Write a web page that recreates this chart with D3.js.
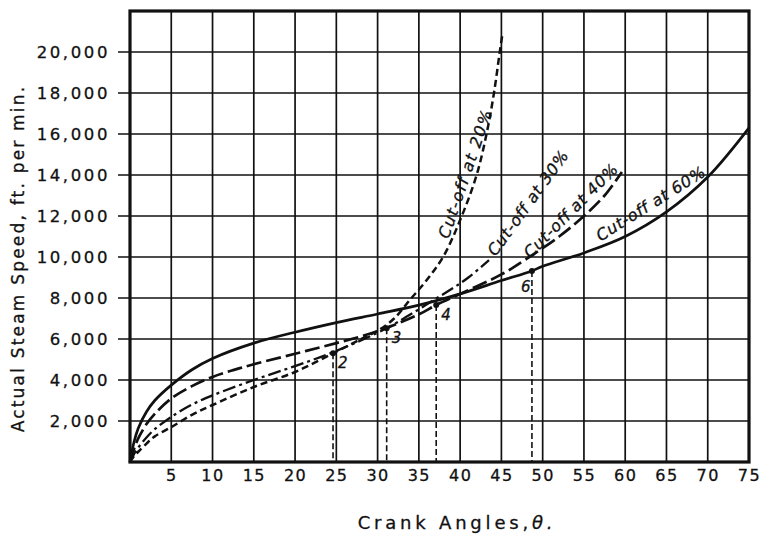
<!DOCTYPE html>
<html>
<head>
<meta charset="utf-8">
<script src="https://cdn.jsdelivr.net/npm/d3@7"></script>
<style>
  body { margin: 0; background: #fff; }
  svg text { fill: #111; stroke: #111; stroke-width: 0.3px; font-family: "DejaVu Sans", sans-serif; }
</style>
</head>
<body>
<div id="chart"></div>
<script>
// crank angle (deg) and steam speed (ft per min)
const angles60 = [0, 0.5, 1, 2, 3, 5, 7.5, 10, 15, 20, 25, 30, 35, 40, 45, 48.7, 50, 55, 60, 65, 70, 75];
const speeds60 = [0, 1000, 1650, 2450, 3000, 3750, 4500, 5050, 5800, 6330, 6800, 7220, 7650, 8200, 8850, 9320, 9550, 10200, 11000, 12200, 13900, 16300];

const angles40 = [0, 0.5, 1, 2, 3, 5, 7.5, 10, 12.5, 15, 20, 25, 30, 35, 37.1, 40, 45, 48, 52, 55, 57.5, 59.6];
const speeds40 = [0, 650, 1150, 1850, 2350, 3100, 3700, 4150, 4480, 4770, 5280, 5800, 6380, 7200, 7660, 8200, 9150, 9900, 11000, 12000, 13000, 14150];

const angles30 = [0, 0.5, 1, 2, 3, 5, 7.5, 10, 15, 20, 25, 31.1, 35, 37, 39, 41, 43.5];
const speeds30 = [0, 400, 700, 1200, 1600, 2200, 2800, 3250, 4000, 4680, 5420, 6530, 7450, 7950, 8450, 9000, 9850];

const angles20 = [0, 0.5, 1, 2, 3, 5, 7.5, 10, 15, 20, 24.6, 28, 30, 32, 34, 36, 38, 40.2, 42, 43.2, 44.1, 44.8, 45.1];
const speeds20 = [0, 300, 500, 900, 1250, 1700, 2300, 2780, 3660, 4390, 5300, 6000, 6400, 7000, 7950, 8900, 10050, 12000, 14000, 16000, 18000, 20000, 20800];

// numbered points with dropped verticals
const pointNames = ["2", "3", "4", "6"];
const pointAngles = [24.6, 31.1, 37.1, 48.7];
const pointSpeeds = [5300, 6530, 7660, 9320];

// curve labels: start position and slope of the lettering
const labelTexts = ["Cut-off at 20%", "Cut-off at 30%", "Cut-off at 40%", "Cut-off at 60%"];
const labelAngles = [38.6, 44.3, 48.5, 57.0];
const labelSpeeds = [10850, 10000, 9900, 10750];
const labelRotate = [-71, -54, -45, -32];

const xTicks = d3.range(5, 76, 5);
const yTicks = d3.range(2000, 20001, 2000);

const width = 761, height = 535;
const margin = {top: 11, right: 12, bottom: 73, left: 130};
const plotW = width - margin.left - margin.right;
const plotH = height - margin.top - margin.bottom;

const svg = d3.select("#chart").append("svg")
    .attr("width", width)
    .attr("height", height);

const g = svg.append("g").attr("transform", `translate(${margin.left},${margin.top})`);

const x = d3.scaleLinear().domain([0, 75]).range([0, plotW]);
const y = d3.scaleLinear().domain([0, 22000]).range([plotH, 0]);

// grid
g.selectAll("line.vgrid").data(xTicks.slice(0, -1))
    .enter().append("line")
    .attr("x1", d => x(d)).attr("x2", d => x(d))
    .attr("y1", 0).attr("y2", plotH)
    .attr("stroke", "#111").attr("stroke-width", 1.7);

g.selectAll("line.hgrid").data(yTicks)
    .enter().append("line")
    .attr("x1", -12).attr("x2", plotW)
    .attr("y1", d => y(d)).attr("y2", d => y(d))
    .attr("stroke", "#111").attr("stroke-width", 1.7);

g.append("rect")
    .attr("x", 0).attr("y", 0)
    .attr("width", plotW).attr("height", plotH)
    .attr("fill", "none").attr("stroke", "#111").attr("stroke-width", 3.2);

// axes (labels only)
const yAxis = g.append("g")
    .call(d3.axisLeft(y).tickValues(yTicks).tickSize(0).tickPadding(20).tickFormat(d3.format(",")));
yAxis.select(".domain").remove();
yAxis.selectAll("text")
    .attr("dy", "0.36em")
    .style("font-family", "DejaVu Sans, sans-serif")
    .style("font-size", "16.5px")
    .style("letter-spacing", "2.6px");

const xAxis = g.append("g")
    .attr("transform", `translate(0,${plotH})`)
    .call(d3.axisBottom(x).tickValues(xTicks).tickSize(0).tickPadding(8));
xAxis.select(".domain").remove();
xAxis.selectAll("text")
    .style("font-family", "DejaVu Sans, sans-serif")
    .style("font-size", "16px")
    .style("letter-spacing", "1.5px");

// dropped verticals
g.selectAll("line.drop").data(pointAngles)
    .enter().append("line")
    .attr("x1", d => x(d)).attr("x2", d => x(d))
    .attr("y1", (d, i) => y(pointSpeeds[i])).attr("y2", plotH)
    .attr("stroke", "#111").attr("stroke-width", 1.6)
    .attr("stroke-dasharray", "6,3");

// curves
const line = d3.line()
    .x(d => x(d[0]))
    .y(d => y(d[1]))
    .curve(d3.curveCatmullRom.alpha(0.5));

const series = [
    {a: angles60, s: speeds60, dash: null, w: 2.7},
    {a: angles40, s: speeds40, dash: "15,5", w: 2.7},
    {a: angles30, s: speeds30, dash: "13,4,3,4", w: 2.3},
    {a: angles20, s: speeds20, dash: "7,4", w: 2.5}
];

series.forEach(sr => {
    g.append("path")
        .datum(sr.a.map((v, i) => [v, sr.s[i]]))
        .attr("d", line)
        .attr("fill", "none")
        .attr("stroke", "#111")
        .attr("stroke-width", sr.w)
        .attr("stroke-dasharray", sr.dash);
});

// points
g.selectAll("circle.pt").data(pointAngles)
    .enter().append("circle")
    .attr("cx", d => x(d))
    .attr("cy", (d, i) => y(pointSpeeds[i]))
    .attr("r", 3)
    .attr("fill", "#111");

g.selectAll("text.ptlabel").data(pointNames)
    .enter().append("text")
    .attr("x", (d, i) => x(pointAngles[i]) + (i === 3 ? -11 : 5))
    .attr("y", (d, i) => y(pointSpeeds[i]) + (i === 3 ? 21 : 15))
    .style("font-size", "15px")
    .style("font-style", "italic")
    .text(d => d);

// curve labels
g.selectAll("text.curvelabel").data(labelTexts)
    .enter().append("text")
    .attr("transform", (d, i) => `translate(${x(labelAngles[i])},${y(labelSpeeds[i])}) rotate(${labelRotate[i]})`)
    .style("font-size", "16px")
    .style("font-style", "italic")
    .style("letter-spacing", (d, i) => (i === 0 ? "1.4px" : "0.7px"))
    .text(d => d);

// axis titles
svg.append("text")
    .attr("transform", `translate(24,${margin.top + plotH / 2 + 22}) rotate(-90)`)
    .attr("text-anchor", "middle")
    .style("font-size", "17px")
    .style("letter-spacing", "2.2px")
    .text("Actual  Steam  Speed, ft. per min.");

const xt = svg.append("text")
    .attr("x", 457)
    .attr("y", 529)
    .attr("text-anchor", "middle")
    .style("font-size", "18px")
    .style("letter-spacing", "3.8px");
xt.append("tspan").text("Crank Angles,");
xt.append("tspan").style("font-style", "italic").text("θ.");
</script>
</body>
</html>
